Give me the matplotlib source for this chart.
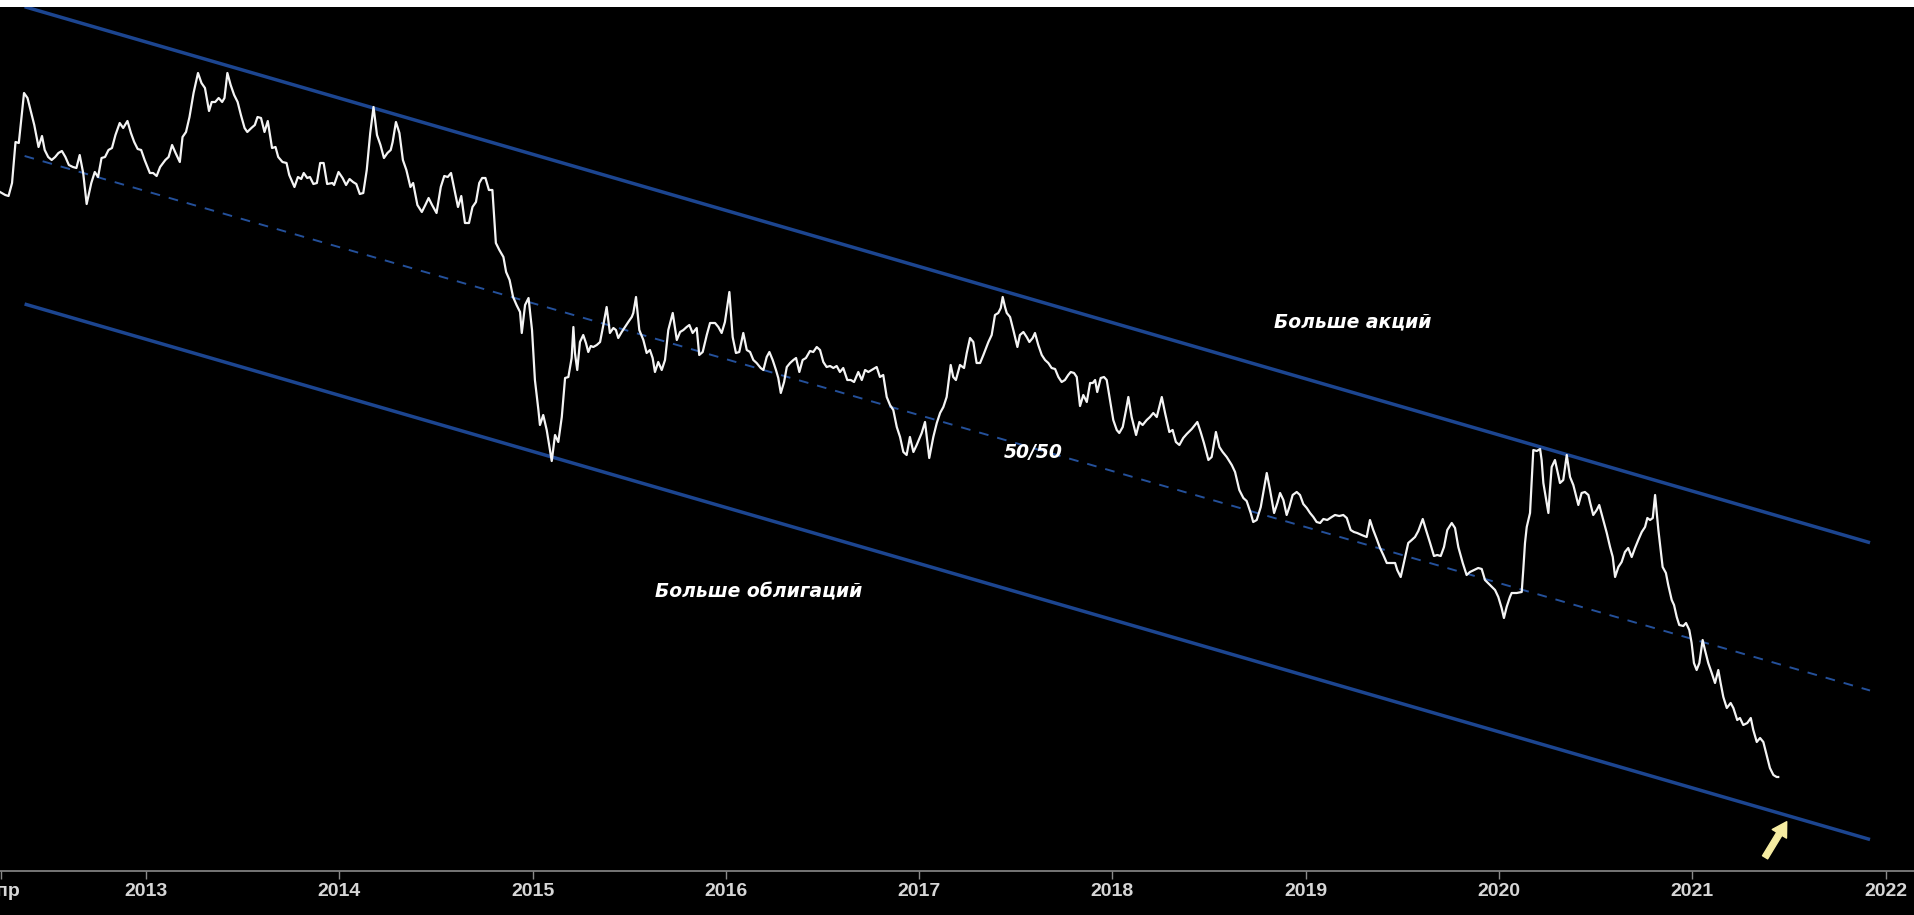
import matplotlib
matplotlib.use("Agg")
import matplotlib.pyplot as plt
import numpy as np
from matplotlib.patches import Rectangle

# ---------------- data (decimal year, relative value) ----------------
t_2012_2014 = [2012.245, 2012.272, 2012.289, 2012.307, 2012.325, 2012.342, 2012.369, 2012.387,
               2012.405, 2012.422, 2012.444, 2012.462, 2012.476, 2012.494, 2012.512, 2012.530,
               2012.547, 2012.565, 2012.583, 2012.601, 2012.622, 2012.640, 2012.657, 2012.675,
               2012.693, 2012.717, 2012.735, 2012.752, 2012.770, 2012.788, 2012.806, 2012.824,
               2012.842, 2012.864, 2012.882, 2012.904, 2012.922, 2012.939, 2012.957, 2012.975,
               2012.993, 2013.020, 2013.037, 2013.055, 2013.073, 2013.100, 2013.117, 2013.135,
               2013.153, 2013.175, 2013.189, 2013.207, 2013.225, 2013.246, 2013.269, 2013.287,
               2013.305, 2013.326, 2013.340, 2013.358, 2013.376, 2013.394, 2013.406, 2013.421,
               2013.438, 2013.456, 2013.474, 2013.491, 2013.510, 2013.524, 2013.545, 2013.563,
               2013.577, 2013.595, 2013.613, 2013.630, 2013.652, 2013.670, 2013.684, 2013.706,
               2013.727, 2013.741, 2013.768, 2013.786, 2013.803, 2013.816, 2013.834, 2013.848,
               2013.866, 2013.884, 2013.901, 2013.919, 2013.937, 2013.964, 2013.973, 2013.996,
               2014.017, 2014.035, 2014.053, 2014.071, 2014.088, 2014.106, 2014.124, 2014.142,
               2014.160, 2014.177, 2014.195, 2014.213, 2014.231, 2014.249, 2014.266, 2014.276,
               2014.293, 2014.311, 2014.329, 2014.347, 2014.368, 2014.382, 2014.404, 2014.427,
               2014.445, 2014.462, 2014.480, 2014.503, 2014.525, 2014.543, 2014.561, 2014.578,
               2014.596, 2014.614, 2014.631, 2014.650, 2014.671, 2014.689, 2014.707, 2014.724,
               2014.739, 2014.756, 2014.774, 2014.792, 2014.810, 2014.828, 2014.849, 2014.863,
               2014.881, 2014.899, 2014.917, 2014.935, 2014.944, 2014.961, 2014.979, 2014.997]
v_2012_2014 = [6.79, 6.76, 6.75, 6.88, 7.29, 7.28, 7.78, 7.73,
               7.59, 7.46, 7.24, 7.35, 7.21, 7.14, 7.11, 7.14,
               7.18, 7.20, 7.14, 7.06, 7.04, 7.03, 7.16, 6.98,
               6.67, 6.88, 6.99, 6.94, 7.13, 7.14, 7.21, 7.23,
               7.36, 7.48, 7.43, 7.50, 7.38, 7.29, 7.22, 7.21,
               7.11, 6.98, 6.98, 6.95, 7.04, 7.11, 7.14, 7.26,
               7.18, 7.09, 7.34, 7.39, 7.54, 7.78, 7.98, 7.88,
               7.83, 7.60, 7.69, 7.69, 7.73, 7.69, 7.73, 7.98,
               7.86, 7.76, 7.69, 7.56, 7.43, 7.39, 7.43, 7.46,
               7.54, 7.53, 7.39, 7.50, 7.23, 7.24, 7.14, 7.09,
               7.08, 6.96, 6.84, 6.94, 6.92, 6.98, 6.93, 6.94,
               6.87, 6.88, 7.08, 7.08, 6.87, 6.88, 6.86, 6.99,
               6.93, 6.86, 6.92, 6.89, 6.87, 6.77, 6.78, 7.01,
               7.38, 7.64, 7.36, 7.26, 7.13, 7.18, 7.21, 7.29,
               7.49, 7.38, 7.11, 7.01, 6.84, 6.88, 6.66, 6.59,
               6.66, 6.73, 6.66, 6.58, 6.84, 6.95, 6.94, 6.98,
               6.81, 6.64, 6.75, 6.48, 6.48, 6.64, 6.69, 6.88,
               6.93, 6.93, 6.81, 6.81, 6.28, 6.21, 6.14, 5.99,
               5.91, 5.74, 5.66, 5.59, 5.38, 5.66, 5.73, 5.41]

t_2015_2017 = [2015.012, 2015.030, 2015.038, 2015.055, 2015.073, 2015.090, 2015.099, 2015.116,
               2015.133, 2015.151, 2015.168, 2015.185, 2015.202, 2015.211, 2015.219, 2015.231,
               2015.245, 2015.262, 2015.276, 2015.288, 2015.301, 2015.314, 2015.332, 2015.349,
               2015.366, 2015.383, 2015.400, 2015.418, 2015.431, 2015.443, 2015.461, 2015.478,
               2015.495, 2015.513, 2015.521, 2015.535, 2015.552, 2015.573, 2015.590, 2015.607,
               2015.621, 2015.633, 2015.650, 2015.668, 2015.685, 2015.702, 2015.725, 2015.746,
               2015.763, 2015.780, 2015.797, 2015.811, 2015.828, 2015.849, 2015.862, 2015.880,
               2015.901, 2015.918, 2015.944, 2015.961, 2015.978, 2015.995, 2016.018, 2016.035,
               2016.052, 2016.069, 2016.090, 2016.108, 2016.125, 2016.142, 2016.159, 2016.180,
               2016.194, 2016.211, 2016.225, 2016.242, 2016.259, 2016.271, 2016.284, 2016.301,
               2016.315, 2016.332, 2016.349, 2016.363, 2016.380, 2016.397, 2016.414, 2016.435,
               2016.452, 2016.470, 2016.487, 2016.504, 2016.521, 2016.539, 2016.556, 2016.573,
               2016.590, 2016.607, 2016.628, 2016.646, 2016.663, 2016.685, 2016.703, 2016.720,
               2016.737, 2016.754, 2016.780, 2016.797, 2016.814, 2016.832, 2016.849, 2016.866,
               2016.884, 2016.901, 2016.918, 2016.935, 2016.952, 2016.970, 2016.987, 2017.013,
               2017.030, 2017.052, 2017.073, 2017.091, 2017.108, 2017.125, 2017.142, 2017.163,
               2017.176, 2017.190, 2017.211, 2017.232, 2017.246, 2017.263, 2017.280, 2017.297,
               2017.315]
v_2015_2017 = [4.91, 4.61, 4.46, 4.56, 4.41, 4.21, 4.10, 4.36,
               4.29, 4.54, 4.93, 4.94, 5.13, 5.44, 5.18, 5.01,
               5.29, 5.36, 5.28, 5.19, 5.25, 5.24, 5.26, 5.29,
               5.46, 5.64, 5.38, 5.43, 5.41, 5.33, 5.39, 5.44,
               5.49, 5.54, 5.58, 5.74, 5.41, 5.31, 5.18, 5.21,
               5.13, 4.99, 5.09, 5.01, 5.11, 5.41, 5.58, 5.31,
               5.39, 5.41, 5.44, 5.46, 5.38, 5.43, 5.16, 5.19,
               5.36, 5.48, 5.48, 5.44, 5.38, 5.49, 5.79, 5.34,
               5.18, 5.19, 5.38, 5.21, 5.19, 5.11, 5.08, 5.03,
               5.01, 5.14, 5.19, 5.11, 5.01, 4.93, 4.78, 4.89,
               5.04, 5.08, 5.11, 5.13, 4.99, 5.11, 5.13, 5.20,
               5.19, 5.24, 5.21, 5.09, 5.04, 5.05, 5.03, 5.05,
               4.99, 5.03, 4.91, 4.91, 4.89, 4.99, 4.91, 5.01,
               4.99, 5.01, 5.04, 4.94, 4.96, 4.74, 4.66, 4.61,
               4.44, 4.34, 4.19, 4.16, 4.34, 4.19, 4.26, 4.38,
               4.49, 4.13, 4.34, 4.48, 4.58, 4.64, 4.74, 5.06,
               4.94, 4.91, 5.06, 5.03, 5.18, 5.33, 5.29, 5.08,
               5.08]

t_2017_2019 = [2017.332, 2017.358, 2017.375, 2017.392, 2017.409, 2017.422, 2017.432, 2017.444,
               2017.453, 2017.470, 2017.487, 2017.508, 2017.521, 2017.539, 2017.556, 2017.570,
               2017.587, 2017.599, 2017.616, 2017.634, 2017.651, 2017.668, 2017.685, 2017.703,
               2017.720, 2017.737, 2017.754, 2017.771, 2017.784, 2017.801, 2017.815, 2017.832,
               2017.849, 2017.867, 2017.884, 2017.898, 2017.910, 2017.921, 2017.939, 2017.956,
               2017.970, 2017.987, 2018.004, 2018.022, 2018.035, 2018.053, 2018.070, 2018.082,
               2018.099, 2018.122, 2018.139, 2018.156, 2018.177, 2018.194, 2018.211, 2018.229,
               2018.255, 2018.272, 2018.294, 2018.311, 2018.328, 2018.346, 2018.366, 2018.384,
               2018.410, 2018.439, 2018.456, 2018.473, 2018.496, 2018.513, 2018.535, 2018.553,
               2018.570, 2018.591, 2018.617, 2018.634, 2018.656, 2018.677, 2018.694, 2018.715,
               2018.728, 2018.746, 2018.767, 2018.780, 2018.798, 2018.815, 2018.836, 2018.853,
               2018.867, 2018.884, 2018.901, 2018.915, 2018.932, 2018.953, 2018.970, 2018.987,
               2019.005, 2019.022, 2019.039, 2019.056, 2019.074, 2019.091, 2019.111, 2019.134,
               2019.151, 2019.173, 2019.194, 2019.212, 2019.232, 2019.249, 2019.266, 2019.289,
               2019.315, 2019.332, 2019.349, 2019.367, 2019.384, 2019.401, 2019.419, 2019.444,
               2019.462, 2019.473, 2019.491, 2019.508, 2019.530, 2019.548, 2019.565, 2019.582,
               2019.605, 2019.622, 2019.643, 2019.663, 2019.680, 2019.698, 2019.715, 2019.732,
               2019.755, 2019.772, 2019.789, 2019.812, 2019.832, 2019.849, 2019.870, 2019.892,
               2019.910, 2019.927, 2019.953, 2019.979, 2019.996]
v_2017_2019 = [5.16, 5.29, 5.36, 5.56, 5.58, 5.63, 5.74, 5.64,
               5.58, 5.54, 5.41, 5.24, 5.36, 5.39, 5.34, 5.29,
               5.33, 5.38, 5.26, 5.16, 5.11, 5.08, 5.03, 5.02,
               4.94, 4.89, 4.91, 4.96, 4.99, 4.98, 4.94, 4.65,
               4.76, 4.69, 4.88, 4.88, 4.91, 4.79, 4.93, 4.94,
               4.91, 4.71, 4.51, 4.41, 4.38, 4.44, 4.61, 4.74,
               4.54, 4.36, 4.49, 4.46, 4.51, 4.54, 4.58, 4.54,
               4.74, 4.58, 4.39, 4.41, 4.29, 4.26, 4.33, 4.37,
               4.42, 4.49, 4.39, 4.28, 4.11, 4.14, 4.39, 4.24,
               4.19, 4.14, 4.06, 3.99, 3.81, 3.73, 3.70, 3.58,
               3.49, 3.51, 3.64, 3.78, 3.98, 3.81, 3.58, 3.68,
               3.78, 3.71, 3.56, 3.64, 3.76, 3.79, 3.76, 3.67,
               3.63, 3.58, 3.54, 3.49, 3.48, 3.52, 3.51, 3.54,
               3.56, 3.55, 3.56, 3.53, 3.41, 3.39, 3.38, 3.36,
               3.34, 3.51, 3.41, 3.32, 3.23, 3.16, 3.08, 3.08,
               3.08, 3.01, 2.94, 3.09, 3.28, 3.31, 3.34, 3.40,
               3.52, 3.41, 3.28, 3.15, 3.16, 3.15, 3.24, 3.41,
               3.48, 3.43, 3.24, 3.08, 2.96, 2.99, 3.01, 3.03,
               3.02, 2.91, 2.86, 2.81, 2.74]

t_2020_2021 = [2020.013, 2020.025, 2020.039, 2020.056, 2020.065, 2020.091, 2020.117, 2020.125,
               2020.134, 2020.143, 2020.160, 2020.169, 2020.177, 2020.195, 2020.212, 2020.220,
               2020.229, 2020.246, 2020.255, 2020.263, 2020.272, 2020.289, 2020.298, 2020.315,
               2020.332, 2020.350, 2020.367, 2020.384, 2020.393, 2020.410, 2020.427, 2020.444,
               2020.462, 2020.470, 2020.487, 2020.505, 2020.518, 2020.539, 2020.557, 2020.574,
               2020.588, 2020.600, 2020.617, 2020.634, 2020.651, 2020.668, 2020.686, 2020.703,
               2020.720, 2020.738, 2020.755, 2020.767, 2020.781, 2020.795, 2020.807, 2020.824,
               2020.836, 2020.846, 2020.863, 2020.875, 2020.893, 2020.905, 2020.919, 2020.932,
               2020.953, 2020.967, 2020.984, 2020.996, 2021.008, 2021.022, 2021.036, 2021.053,
               2021.065, 2021.082, 2021.100, 2021.117, 2021.134, 2021.146, 2021.160, 2021.178,
               2021.198, 2021.212, 2021.232, 2021.246, 2021.263, 2021.284, 2021.302, 2021.315,
               2021.333, 2021.350, 2021.367, 2021.384, 2021.401, 2021.419, 2021.436, 2021.444]
v_2020_2021 = [2.63, 2.53, 2.64, 2.74, 2.78, 2.78, 2.79, 3.01,
               3.28, 3.44, 3.58, 3.91, 4.21, 4.20, 4.22, 4.11,
               3.88, 3.68, 3.58, 3.81, 4.04, 4.11, 4.03, 3.88,
               3.91, 4.16, 3.94, 3.86, 3.79, 3.66, 3.78, 3.79,
               3.76, 3.69, 3.56, 3.61, 3.66, 3.51, 3.38, 3.24,
               3.14, 2.94, 3.04, 3.09, 3.19, 3.23, 3.14, 3.23,
               3.31, 3.39, 3.44, 3.53, 3.51, 3.53, 3.76, 3.41,
               3.21, 3.04, 2.98, 2.86, 2.71, 2.66, 2.54, 2.46,
               2.45, 2.48, 2.41, 2.28, 2.08, 2.01, 2.08, 2.31,
               2.21, 2.08, 1.98, 1.88, 2.01, 1.88, 1.74, 1.63,
               1.68, 1.63, 1.51, 1.53, 1.46, 1.48, 1.53, 1.41,
               1.29, 1.33, 1.29, 1.16, 1.03, 0.96, 0.94, 0.94]

# channel lines (start / end)
channel_t = [2012.372, 2021.919]
upper_channel = [8.643, 3.283]
lower_channel = [5.670, 0.315]
mid_channel = [7.150, 1.805]

# labels
tick_pos = [2012.25, 2013, 2014, 2015, 2016, 2017, 2018, 2019, 2020, 2021, 2022]
tick_labels = ["Апр", "2013", "2014", "2015", "2016", "2017", "2018", "2019", "2020", "2021", "2022"]
zone_texts = ["Больше акций", "50/50", "Больше облигаций"]
zone_pos = [(2019.242, 5.49), (2017.592, 4.19), (2016.170, 2.79)]
arrow_tail = (2021.376, 0.137)
arrow_tip = (2021.488, 0.493)

# ---------------- figure ----------------
plt.rcParams["lines.scale_dashes"] = False
W, H = 1915, 915
fig = plt.figure(figsize=(W / 100, H / 100), dpi=100, facecolor="black")
ax = fig.add_axes([0, 44 / H, 1, 871 / H])
ax.set_facecolor("black")

years = np.concatenate([t_2012_2014, t_2015_2017, t_2017_2019, t_2020_2021])
values = np.concatenate([v_2012_2014, v_2015_2017, v_2017_2019, v_2020_2021])

blue = "#1c4590"
ax.plot(channel_t, upper_channel, color=blue, lw=2.5, solid_capstyle="butt", zorder=2)
ax.plot(channel_t, lower_channel, color=blue, lw=2.5, solid_capstyle="butt", zorder=2)
ax.plot(channel_t, mid_channel, color="#24509a", lw=1.4, dashes=(7.0, 6.5), zorder=2)
ax.plot(years, values, color="#f4f4f4", lw=1.6, zorder=3, solid_joinstyle="round")

for txt, (tx, ty) in zip(zone_texts, zone_pos):
    ax.text(tx, ty, txt, color="white", fontsize=13.5, fontweight="bold", fontstyle="italic",
            family="DejaVu Sans", ha="center", va="center", zorder=4)

ax.annotate("", xy=arrow_tip, xytext=arrow_tail,
            arrowprops=dict(arrowstyle="simple,tail_width=0.36,head_width=1.0,head_length=0.85",
                            mutation_scale=12, color="#f6eca2", shrinkA=0, shrinkB=0),
            zorder=5)

ax.set_xlim(2012.2447, 2022.1516)
ax.set_ylim(0, 8.71)
for s in ["top", "left", "right"]:
    ax.spines[s].set_visible(False)
ax.spines["bottom"].set_color("#8a8a8a")
ax.spines["bottom"].set_linewidth(1.2)
ax.set_yticks([])
ax.set_xticks(tick_pos)
ax.set_xticklabels(tick_labels)
ax.tick_params(axis="x", colors="#8a8a8a", length=6, width=1.0, labelcolor="#d6d6d6",
               labelsize=14, pad=3)
for lab in ax.get_xticklabels():
    lab.set_fontfamily("Liberation Sans")
    lab.set_fontweight("bold")

fig.patches.append(Rectangle((0, 1 - 7 / H), 1, 7 / H, transform=fig.transFigure,
                             facecolor="white", edgecolor="none", zorder=10))

fig.savefig("out.png", dpi=100, facecolor="black")
